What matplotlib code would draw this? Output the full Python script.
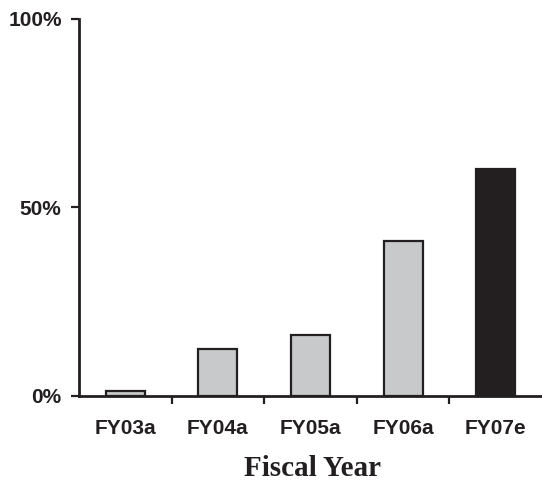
import matplotlib
matplotlib.use("Agg")
import matplotlib.pyplot as plt
from matplotlib.ticker import FixedLocator

categories = ["FY03a", "FY04a", "FY05a", "FY06a", "FY07e"]
values = [1.3, 12.3, 16.1, 41.0, 60.2]
bar_colors = ["#c8c9cb", "#c8c9cb", "#c8c9cb", "#c8c9cb", "#231f20"]
y_ticks = [0, 50, 100]
y_tick_labels = ["0%", "50%", "100%"]

fig = plt.figure(figsize=(5.42, 4.82), dpi=100)
ax = fig.add_axes([79 / 542, 1 - 395.7 / 482, 1 - 79 / 542, (395.7 - 18.9) / 482])

x = list(range(len(categories)))
ax.bar(x, values, width=0.42, color=bar_colors, edgecolor="#231f20",
       linewidth=1.6, zorder=3)

ax.set_xlim(-0.5, len(categories) - 0.5)
ax.set_ylim(0, 100)

for side in ("top", "right"):
    ax.spines[side].set_visible(False)
for side in ("left", "bottom"):
    ax.spines[side].set_linewidth(2.0)
    ax.spines[side].set_color("#231f20")

ax.set_yticks(y_ticks)
ax.set_yticklabels(y_tick_labels, fontfamily="Liberation Sans",
                   fontweight="bold", fontsize=15, color="#231f20")
ax.tick_params(axis="y", direction="out", length=6, width=1.6,
               color="#231f20", pad=6.5)

ax.set_xticks(x)
ax.set_xticklabels(categories, fontfamily="Liberation Sans",
                   fontweight="bold", fontsize=15, color="#231f20")
ax.tick_params(axis="x", which="major", length=0, pad=17)
ax.xaxis.set_minor_locator(FixedLocator([i + 0.5 for i in x[:-1]]))
ax.tick_params(axis="x", which="minor", direction="out", length=6,
               width=1.6, color="#231f20")

fig.text(312.7 / 542, 1 - 468 / 482, "Fiscal Year", ha="center", va="center",
         fontfamily="Liberation Serif", fontweight="bold", fontsize=21,
         color="#231f20")

fig.savefig("out.png", dpi=100, facecolor="white")
